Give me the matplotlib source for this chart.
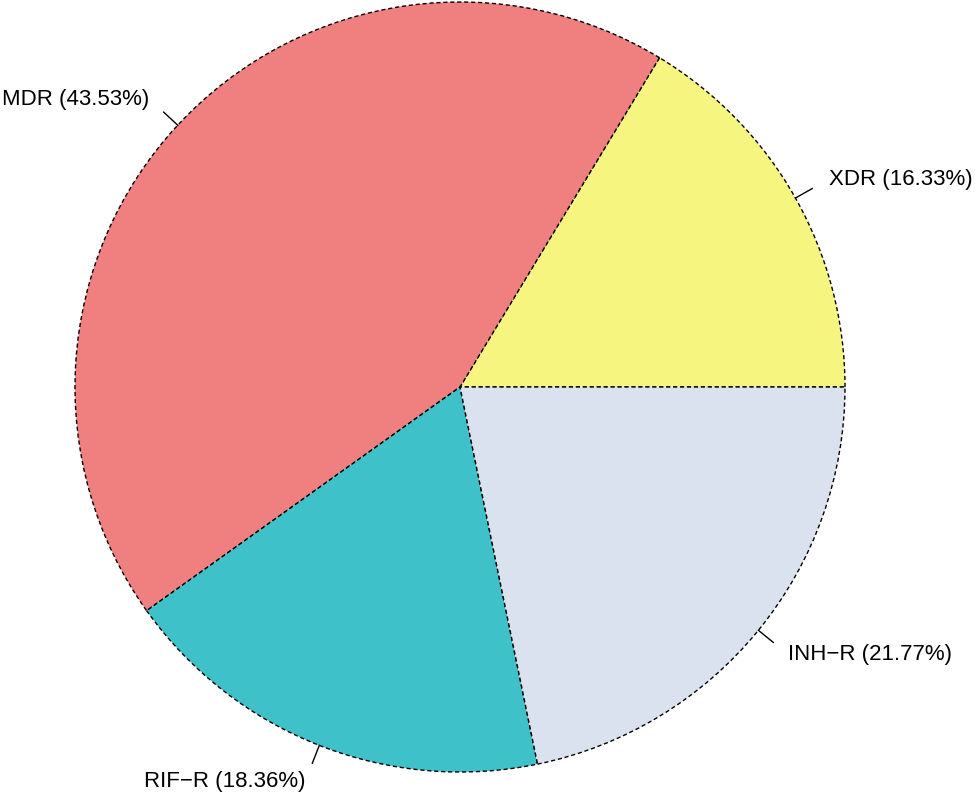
import numpy as np
import matplotlib.pyplot as plt

labels = ['XDR', 'MDR', 'RIF\u2212R', 'INH\u2212R']
percents = [16.33, 43.53, 18.36, 21.77]
colors = ['#F6F580', '#F08080', '#3FC1C9', '#DAE2EF']

plt.rcParams['font.family'] = ['Liberation Sans', 'DejaVu Sans']

fig = plt.figure(figsize=(9.75, 7.95), dpi=100)
ax = fig.add_axes([0, 0, 1, 1])

cx, cy, r = 460, 408, 385
txt = ['%s (%.2f%%)' % (l, p) for l, p in zip(labels, percents)]
wedges, texts = ax.pie(percents, labels=txt, colors=colors, startangle=0,
                       counterclock=True, center=(cx, cy), radius=r,
                       labeldistance=1.1,
                       wedgeprops=dict(edgecolor='black', linewidth=1, linestyle=(0, (3, 2))),
                       textprops=dict(fontsize=16, color='black'))

# small tick lines from the edge out to 1.05 r, like R's pie()
for w, t in zip(wedges, texts):
    mid = np.deg2rad((w.theta1 + w.theta2) / 2)
    ax.plot([cx + r * np.cos(mid), cx + 1.05 * r * np.cos(mid)],
            [cy + r * np.sin(mid), cy + 1.05 * r * np.sin(mid)],
            color='black', lw=1)
    t.set_ha('left' if np.cos(mid) > 0 else 'right')
    t.set_va('center')

ax.set_xlim(0, 975)
ax.set_ylim(0, 795)
ax.set_aspect('equal')
ax.axis('off')
fig.savefig('out.png', dpi=100)
